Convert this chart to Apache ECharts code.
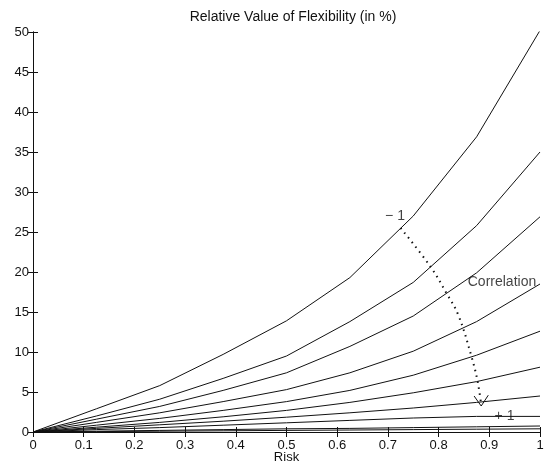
<!DOCTYPE html>
<html><head><meta charset="utf-8">
<script src="https://cdn.jsdelivr.net/npm/echarts@6/dist/echarts.min.js"></script>
<style>html,body{margin:0;padding:0;background:#fff}#c{width:553px;height:469px}</style>
</head><body><div id="c"></div>
<script>
var risk = [0, 0.125, 0.25, 0.375, 0.5, 0.625, 0.75, 0.875, 1];
var curve1 = [0, 2.9, 5.8, 9.7, 13.9, 19.3, 27.0, 36.9, 50.2];
var curve2 = [0, 2.0, 4.1, 6.7, 9.5, 13.8, 18.7, 25.8, 35.0];
var curve3 = [0, 1.6, 3.2, 5.2, 7.4, 10.7, 14.5, 19.9, 26.9];
var curve4 = [0, 1.2, 2.4, 3.8, 5.3, 7.4, 10.1, 13.8, 18.5];
var curve5 = [0, 0.85, 1.7, 2.7, 3.8, 5.2, 7.1, 9.6, 12.6];
var curve6 = [0, 0.6, 1.2, 1.9, 2.7, 3.7, 4.9, 6.3, 8.1];
var curve7 = [0, 0.45, 0.9, 1.35, 1.85, 2.4, 3.0, 3.7, 4.5];
var curve8 = [0, 0.3, 0.55, 0.85, 1.15, 1.45, 1.75, 1.95, 1.95];
var curve9 = [0, 0.1, 0.2, 0.3, 0.4, 0.45, 0.55, 0.65, 0.75];
var curve10 = [0, 0.05, 0.1, 0.15, 0.2, 0.25, 0.3, 0.35, 0.4];
var curves = [curve1, curve2, curve3, curve4, curve5, curve6, curve7, curve8, curve9, curve10];
var arrowX = [0.725, 0.783, 0.816, 0.839, 0.865, 0.877, 0.884];
var arrowY = [25.5, 20.75, 17.3, 14.6, 9.4, 6.3, 3.4];
var headX = [0.870, 0.884, 0.898];
var headY = [4.5, 3.25, 4.6];
var labelX = [0.714, 0.925, 0.93];
var labelY = [27.0, 18.7, 2.0];
var labelText = ['\u2212 1', 'Correlation', '+ 1'];
var xTicks = [0, 0.1, 0.2, 0.3, 0.4, 0.5, 0.6, 0.7, 0.8, 0.9, 1];
var yTicks = [0, 5, 10, 15, 20, 25, 30, 35, 40, 45, 50];

var FONT = 'Liberation Sans';
var series = curves.map(function (c) {
  return {
    type: 'line', data: risk.map(function (x, i) { return [x, c[i]]; }),
    showSymbol: false, symbol: 'none', silent: true,
    lineStyle: { color: '#111', width: 1 }
  };
});
series.push({
  type: 'line', data: arrowX.map(function (x, i) { return [x, arrowY[i]]; }),
  smooth: 0.4, symbol: 'none', silent: true,
  lineStyle: { color: '#111', width: 2, type: [1.5, 4.5] }
});
series.push({
  type: 'line', data: headX.map(function (x, i) { return [x, headY[i]]; }),
  symbol: 'none', silent: true, lineStyle: { color: '#111', width: 1 }
});
series.push({
  type: 'scatter', symbolSize: 0, silent: true,
  data: labelX.map(function (x, i) { return { value: [x, labelY[i]], name: labelText[i] }; }),
  label: { show: true, position: 'inside', formatter: function (p) { return p.name; },
    color: '#111', fontFamily: FONT, fontSize: 14 }
});

var commonAxis = {
  axisLine: { show: true, lineStyle: { color: '#111', width: 1 } },
  axisTick: { show: true, inside: true, length: 5, lineStyle: { color: '#111' } },
  splitLine: { show: false }
};
var chart = echarts.init(document.getElementById('c'), null, { renderer: 'canvas' });
chart.setOption({
  backgroundColor: '#fff',
  animation: false,
  title: { text: 'Relative Value of Flexibility (in %)', left: 288, top: 5, textAlign: 'center',
    textStyle: { fontFamily: FONT, fontSize: 14, fontWeight: 'normal', color: '#111' } },
  grid: { left: 33, right: 13, top: 32, bottom: 37, containLabel: false, outerBoundsMode: 'none' },
  xAxis: [
    Object.assign({ type: 'value', min: 0, max: 1, interval: 0.1, position: 'bottom',
      name: 'Risk', nameLocation: 'middle', nameGap: 19, nameMoveOverlap: false,
      nameTextStyle: { fontFamily: FONT, fontSize: 13, color: '#111' },
      axisLabel: { fontFamily: FONT, fontSize: 13, color: '#111', margin: 7,
        formatter: function (v) { return xTicks.indexOf(Math.round(v * 10) / 10) >= 0 ? String(Math.round(v * 10) / 10) : ''; } } }, commonAxis),
    Object.assign({ type: 'value', min: 0, max: 1, interval: 0.1, position: 'top',
      axisLabel: { show: false } }, commonAxis)
  ],
  yAxis: [
    Object.assign({ type: 'value', min: 0, max: 50, interval: 5, position: 'left',
      axisLabel: { fontFamily: FONT, fontSize: 13, color: '#111', margin: 4,
        formatter: function (v) { return yTicks.indexOf(v) >= 0 ? String(v) : ''; } } }, commonAxis),
    Object.assign({ type: 'value', min: 0, max: 50, interval: 5, position: 'right',
      axisLabel: { show: false } }, commonAxis)
  ],
  series: series
});
</script></body></html>
